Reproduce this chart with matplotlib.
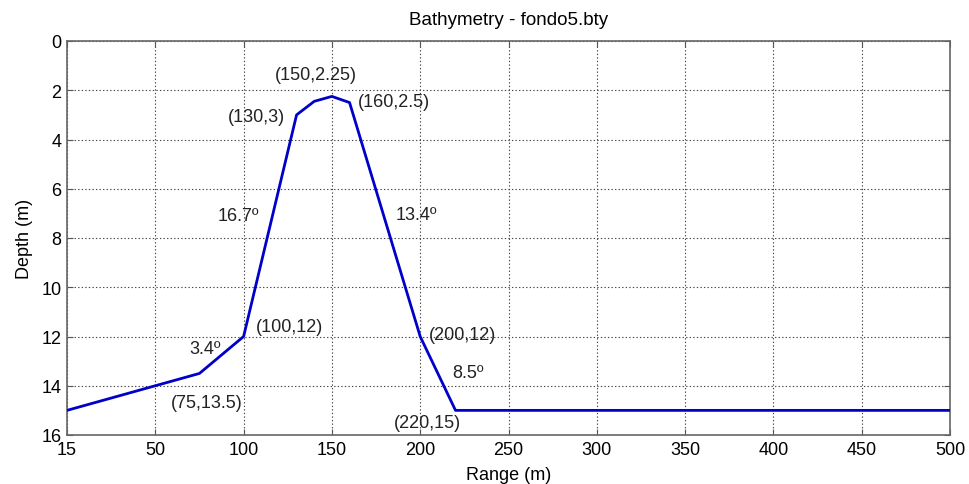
import matplotlib
matplotlib.use("Agg")
import matplotlib.pyplot as plt

plt.rcParams['font.family'] = ['Liberation Sans', 'DejaVu Sans']

range_m = [0, 75, 100, 130, 140, 150, 160, 200, 220, 500]
depth_m = [15, 13.5, 12, 3, 2.45, 2.25, 2.5, 12, 15, 15]

xtick_pos = [0, 50, 100, 150, 200, 250, 300, 350, 400, 450, 500]
xtick_labels = ["15", "50", "100", "150", "200", "250", "300", "350", "400", "450", "500"]
ytick_pos = [0, 2, 4, 6, 8, 10, 12, 14, 16]

annotations = [
    ("(150,2.25)", 141, 1.35),
    ("(130,3)", 107, 3.05),
    ("(160,2.5)", 185, 2.45),
    ("16.7º", 97, 7.1),
    ("13.4º", 198, 7.05),
    ("(100,12)", 126, 11.6),
    ("3.4º", 78, 12.5),
    ("(75,13.5)", 79, 14.7),
    ("(200,12)", 224, 11.9),
    ("8.5º", 227, 13.45),
    ("(220,15)", 204, 15.5),
]

fig = plt.figure(figsize=(9.69, 4.85), dpi=100)
ax = fig.add_axes([67/969, 1-436/485, (950-67)/969, (436-42)/485])

ax.plot(range_m, depth_m, color='#0000c8', linewidth=2.0, zorder=3)

ax.set_xlim(0, 500)
ax.set_ylim(16, 0)
ax.set_xticks(xtick_pos)
ax.set_xticklabels(xtick_labels)
ax.set_yticks(ytick_pos)
ax.tick_params(direction='in', length=4, labelsize=13, top=True, right=True,
               color='#555555', pad=4)
ax.grid(True, linestyle=(0, (1.2, 2)), color='#444444', linewidth=0.8)
for s in ax.spines.values():
    s.set_color('#666666')
    s.set_linewidth(1.2)

for txt, x, y in annotations:
    ax.text(x, y, txt, ha='center', va='center', fontsize=13, color='#222222', zorder=4)

ax.set_title("Bathymetry - fondo5.bty", fontsize=13.5, pad=12)
ax.set_xlabel("Range (m)", fontsize=13, labelpad=6)
ax.set_ylabel("Depth (m)", fontsize=13, labelpad=6)

fig.savefig("out.png", dpi=100)
